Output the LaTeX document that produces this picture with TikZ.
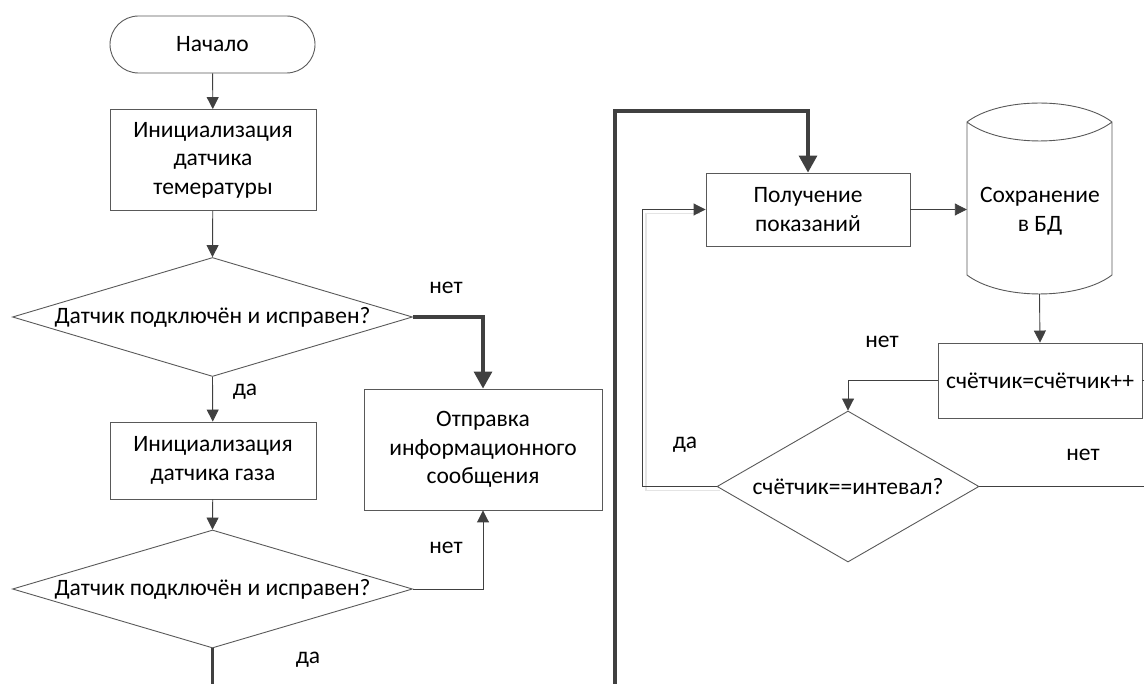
\documentclass[tikz,border=0pt]{standalone}
\usepackage{fontspec}
\setmainfont{Carlito}
\usetikzlibrary{arrows.meta,shapes.geometric,calc}
\definecolor{ln}{HTML}{404040}
\definecolor{bd}{HTML}{595959}
\definecolor{shadowgray}{HTML}{E4E4E4}
\begin{document}
\begin{tikzpicture}[x=1pt,y=-1pt,
  font=\fontsize{23.5}{28.5}\selectfont,
  box/.style={draw=bd, line width=0.9pt, rectangle, align=center, inner sep=0pt},
  dia/.style={draw=bd, line width=0.9pt, diamond, inner sep=0pt},
  flow/.style={draw=ln, line width=0.9pt, -{Triangle[length=12pt,width=12pt]}},
  plain/.style={draw=ln, line width=0.9pt},
  bold/.style={draw=ln, line width=3.2pt, -{Triangle[length=17pt,width=18pt]}},
  boldline/.style={draw=ln, line width=3.2pt},
  lbl/.style={inner sep=0pt}]
\useasboundingbox (0,0) rectangle (1144,684);
\clip (0,0) rectangle (1144,684);

% left column
\node[box, minimum width=205pt, minimum height=57pt, rounded corners=28.5pt] (start) at (212.5,44.5) {Начало};
\node[box, minimum width=206pt, minimum height=101pt] (init1) at (213,160) {Инициализация\\датчика\\темературы};
\node[dia, minimum width=400pt, minimum height=119pt] (dec1) at (212.5,317) {};
\node (dec1t) at (dec1) {Датчик подключён и исправен?};
\node[box, minimum width=206pt, minimum height=77pt] (init2) at (213,460.5) {Инициализация\\датчика газа};
\node[dia, minimum width=400pt, minimum height=118pt] (dec2) at (212.5,589) {};
\node (dec2t) at (dec2) {Датчик подключён и исправен?};
\node[box, minimum width=238pt, minimum height=121pt] (send) at (483,449.5) {Отправка\\информационного\\сообщения};

% right column
\node[box, minimum width=204pt, minimum height=73pt] (get) at (808,209.5) {Получение\\показаний};
\node[inner sep=0pt, minimum width=145pt, minimum height=191pt] (store) at (1039.5,198.5) {};
\draw[bd, line width=0.9pt]
  (967,122) .. controls (1000,96.7) and (1079,96.7) .. (1112,122)
  (967,122) .. controls (1000,147.3) and (1079,147.3) .. (1112,122)
  (967,122) -- (967,275) .. controls (1000,300.3) and (1079,300.3) .. (1112,275) -- (1112,122);
\node[align=center] (storet) at (1040,211) {Сохранение\\в БД};
\node[box, minimum width=204pt, minimum height=75pt] (count) at (1040,380.5) {счётчик=счётчик++};
\node[dia, minimum width=262pt, minimum height=151pt] (dec3) at (848,486.5) {};
\node (dec3t) at (dec3) {счётчик==интевал?};

% free ends and bends
\coordinate (offL) at (212.5,700);
\coordinate (offR) at (615,700);
\coordinate (topc) at (615,111);
\coordinate (loopc) at (642,486.5);
\coordinate (rt1) at (1165,486.5);
\coordinate (rt2) at (1165,380.5);

% connectors, left column
\draw[flow] (start) -- (init1);
\draw[flow] (init1) -- (dec1.north);
\draw[bold] (dec1.east) -| (send.north);
\draw[flow] (dec1.south) -- (init2);
\draw[flow] (init2) -- (dec2.north);
\draw[flow] (dec2.east) -| (send.south);
\draw[boldline] (dec2.south) -- (offL);

% connectors, right column
\draw[bold] (offR) -- (topc) -| (get.north);
\draw[flow] (get.east) -- (get.east -| store.west);
\draw[flow] (store.south) -- (count.north);
\draw[flow] (count.west) -| (dec3.north);
\draw[draw=shadowgray, line width=1.4pt] ([shift={(3,4)}]dec3.west) -- ([shift={(4,4)}]loopc) |- ([shift={(-6,4)}]get.west);
\draw[flow] (dec3.west) -- (loopc) |- (get.west);
\draw[plain] (dec3.east) -- (rt1) -- (rt2) -- (count.east);

% branch labels
\node[lbl] (l1) at (446,288) {нет};
\node[lbl] (l2) at (245,392) {да};
\node[lbl] (l3) at (446,548) {нет};
\node[lbl] (l4) at (308,660) {да};
\node[lbl] (l5) at (882,342) {нет};
\node[lbl] (l6) at (685,445) {да};
\node[lbl] (l7) at (1083,455) {нет};
\end{tikzpicture}
\end{document}
